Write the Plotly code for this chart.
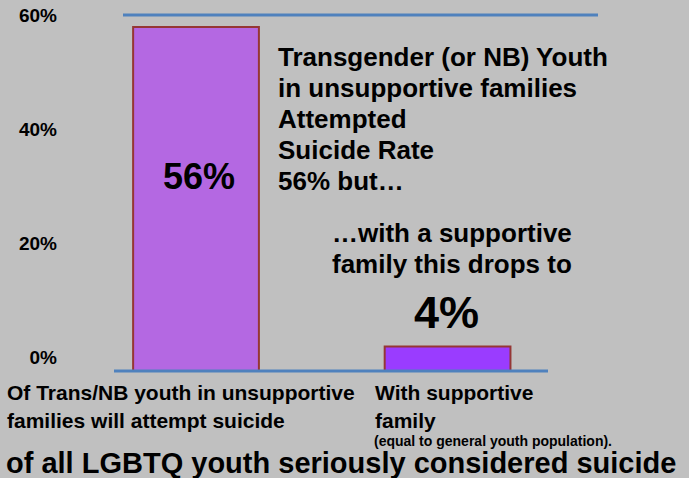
import plotly.graph_objects as go

# ---- data ----
categories = ["Of Trans/NB youth in unsupportive families will attempt suicide",
              "With supportive family"]
values = [56, 4]
cat_label_lines = [["Of Trans/NB youth in unsupportive", "families will attempt suicide"],
                   ["With supportive", "family"]]
cat_note = "(equal to general youth population)."
tick_vals = [0, 20, 40, 60]
tick_text = ["0%", "20%", "40%", "60%"]
note_lines = ["Transgender (or NB) Youth", "in unsupportive families", "Attempted",
              "Suicide Rate", "56% but\u2026"]
drop_lines = ["\u2026with a supportive", "family this drops to"]
bottom_title = "of all LGBTQ youth seriously considered suicide"

# ---- style ----
BG = "#c0c0c0"
BAR_COLORS = ["#b468e2", "#9a3cff"]
BORDER = "#953735"
BLUE = "#4f81bd"
FONT = "Liberation Sans, Arial, Helvetica, sans-serif"
W, H = 689, 478
L, R, T, B = 114, 91, 15, 107
PW, PH = W - L - R, H - T - B


def px(x):
    return (x - L) / PW


def py(y):
    return (H - B - y) / PH


fig = go.Figure()
fig.add_bar(x=categories, y=values, width=0.5,
            marker=dict(color=BAR_COLORS, line=dict(color=BORDER, width=2)),
            hoverinfo="skip", showlegend=False)
fig.add_scatter(x=categories, y=[None, None], yaxis="y2", showlegend=False,
                hoverinfo="skip")

anns = []


def ann(text, x, y, size, xanchor="left", yanchor="middle", **kw):
    anns.append(dict(text=f"<b>{text}</b>", x=x, y=y, xref=kw.pop("xref", "paper"),
                     yref=kw.pop("yref", "paper"), xanchor=xanchor, yanchor=yanchor,
                     showarrow=False, font=dict(family=FONT, size=size, color="black"),
                     **kw))


# annotation text block
for i, line in enumerate(note_lines):
    ann(line, px(276), py(57 + 31 * i), 26)
for i, line in enumerate(drop_lines):
    ann(line, px(452), py(233 + 31 * i), 26, xanchor="center")
# value labels
ann(f"{values[0]}%", categories[0], 31.6, 36, xanchor="center", xref="x", yref="y", xshift=3)
ann(f"{values[1]}%", categories[1], 9.6, 45, xanchor="center", xref="x", yref="y", xshift=-1)
# category labels
for i, line in enumerate(cat_label_lines[0]):
    ann(line, px(5), py(392 + 28 * i), 21)
for i, line in enumerate(cat_label_lines[1]):
    ann(line, px(373), py(392 + 28 * i), 21)
ann(cat_note, px(372), py(441), 14)
ann(bottom_title, px(4), py(463), 29)

fig.update_layout(
    width=W, height=H, autosize=False,
    margin=dict(l=L, r=R, t=T, b=B, pad=0),
    paper_bgcolor=BG, plot_bgcolor=BG,
    showlegend=False,
    xaxis=dict(type="category", range=[-0.326, 1.598], showticklabels=False,
               showgrid=False, zeroline=False, showline=False, ticks="",
               automargin=False),
    yaxis=dict(range=[0, 57.95], visible=False, showgrid=False, zeroline=False,
               automargin=False),
    yaxis2=dict(overlaying="y", side="left", range=[-2.456, 60], tickvals=tick_vals,
                ticktext=[f"<b>{t}</b>" for t in tick_text], showgrid=False,
                zeroline=False, showline=False, ticks="", ticklabelstandoff=56,
                automargin=False,
                tickfont=dict(family=FONT, size=19, color="black")),
    shapes=[
        dict(type="line", xref="paper", yref="paper", x0=px(123), x1=1, y0=1, y1=1,
             line=dict(color=BLUE, width=3)),
        dict(type="line", xref="paper", yref="paper", x0=0, x1=px(548), y0=0, y1=0,
             line=dict(color=BLUE, width=3)),
    ],
    annotations=anns,
)

fig.write_html(
    "out.html",
    config={"displayModeBar": False},
    post_script="document.body.style.margin='0';document.body.style.padding='0';"
                "document.body.style.background='" + BG + "';",
)
